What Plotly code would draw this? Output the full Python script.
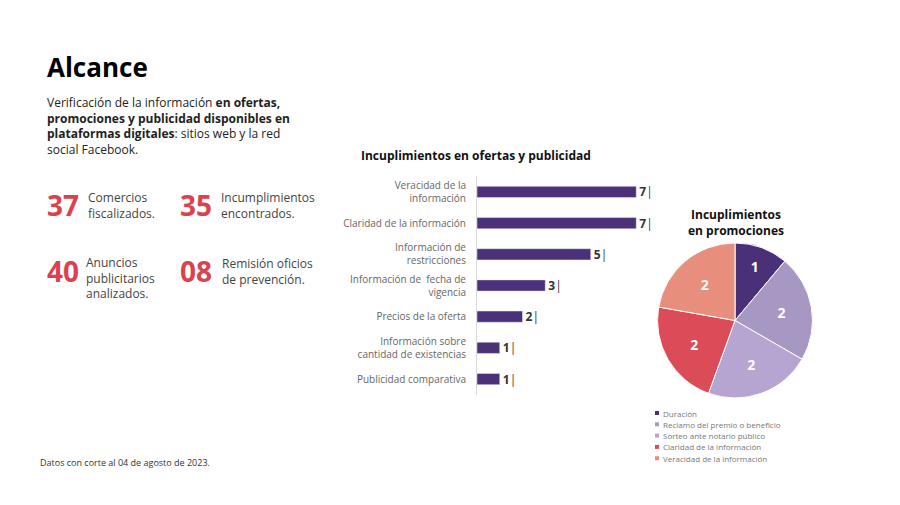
import plotly.graph_objects as go

W, H = 900, 505

# bar chart data
bar_categories = [
    "Veracidad de la<br>información",
    "Claridad de la información",
    "Información de<br>restricciones",
    "Información de  fecha de<br>vigencia",
    "Precios de la oferta",
    "Información sobre<br>cantidad de existencias",
    "Publicidad comparativa",
]
bar_values = [7, 7, 5, 3, 2, 1, 1]

# pie data
pie_labels = [
    "Duración",
    "Reclamo del premio o beneficio",
    "Sorteo ante notario público",
    "Claridad de la información",
    "Veracidad de la información",
]
pie_values = [1, 2, 2, 2, 2]
pie_colors = ["#4a3078", "#a797c3", "#b6a5d0", "#dc4c58", "#e88e7c"]

# key figures
stat_numbers = ["37", "35", "40", "08"]
stat_texts = [
    "Comercios<br>fiscalizados.",
    "Incumplimientos<br>encontrados.",
    "Anuncios<br>publicitarios<br>analizados.",
    "Remisión oficios<br>de prevención.",
]

FONT = "Open Sans"
RED = "#d9434f"
PURPLE = "#4b3179"

# the page body adds an 8px offset
OFF = 8


def px(x):
    return (x - OFF) / W


def py(y):
    return 1 - (y - OFF) / H


fig = go.Figure()

fig.add_trace(go.Bar(
    x=bar_values,
    y=bar_categories,
    orientation="h",
    marker=dict(color=PURPLE),
    text=[f"<b>{v}</b>|" for v in bar_values],
    textposition="outside",
    constraintext="none",
    textfont=dict(size=12, color="#333333", family=FONT),
    cliponaxis=False,
    hoverinfo="skip",
    showlegend=False,
))

fig.add_trace(go.Pie(
    labels=pie_labels,
    values=pie_values,
    sort=False,
    direction="clockwise",
    rotation=0,
    marker=dict(colors=pie_colors, line=dict(color="white", width=1)),
    texttemplate="<b>%{value}</b>",
    textposition="inside",
    insidetextfont=dict(color="white", size=14, family=FONT),
    domain=dict(x=[px(657), px(813)], y=[py(398), py(243)]),
    showlegend=False,
))

annotations = []


def note(x, y, text, size, color="#222222", anchor="left", yanchor="middle"):
    annotations.append(dict(
        x=px(x), y=py(y), xref="paper", yref="paper", text=text,
        showarrow=False, xanchor=anchor, yanchor=yanchor, align=anchor,
        font=dict(size=size, color=color, family=FONT),
    ))


note(45, 67, "<b>Alcance</b>", 26, "#000000")
note(45, 126,
     "Verificación de la información <b>en ofertas,</b><br>"
     "<b>promociones y publicidad disponibles en</b><br>"
     "<b>plataformas digitales</b>: sitios web y la red<br>"
     "social Facebook.", 12, "#222222")

stat_pos = [(45, 205, 86, 205), (178, 205, 219, 205), (45, 271, 84, 278), (178, 271, 220, 271)]
for num, txt, (nx, ny, tx, ty) in zip(stat_numbers, stat_texts, stat_pos):
    note(nx, ny, f"<b>{num}</b>", 28, RED)
    note(tx, ty, txt, 12, "#444444")

note(38, 462, "Datos con corte al 04 de agosto de 2023.", 9, "#333333")
note(359, 155, "<b>Incuplimientos en ofertas y publicidad</b>", 12, "#111111")
note(736, 223, "<b>Incuplimientos<br>en promociones</b>", 12, "#111111", anchor="center")

# legend for pie
shapes = []
for i, (lab, col) in enumerate(zip(pie_labels, pie_colors)):
    yy = 413 + i * 11.3
    shapes.append(dict(type="rect", xref="paper", yref="paper",
                       x0=px(655), x1=px(659), y0=py(yy + 2), y1=py(yy - 2),
                       fillcolor=col, line=dict(width=0)))
    note(661, yy, lab, 8, "#777777")

fig.update_layout(
    width=W, height=H,
    margin=dict(l=0, r=0, t=0, b=0),
    paper_bgcolor="white",
    plot_bgcolor="white",
    font=dict(family=FONT),
    annotations=annotations,
    shapes=shapes,
    bargap=0.64,
    xaxis=dict(domain=[px(477), px(659)], range=[0, 8], visible=False),
    yaxis=dict(
        domain=[py(394.6), py(176.4)],
        autorange="reversed",
        showline=True, linecolor="#d9d9d9", linewidth=1,
        showgrid=False, ticks="", ticklabelstandoff=8,
        tickfont=dict(size=10, color="#666666", family=FONT),
    ),
)

fig.write_html("out.html")
